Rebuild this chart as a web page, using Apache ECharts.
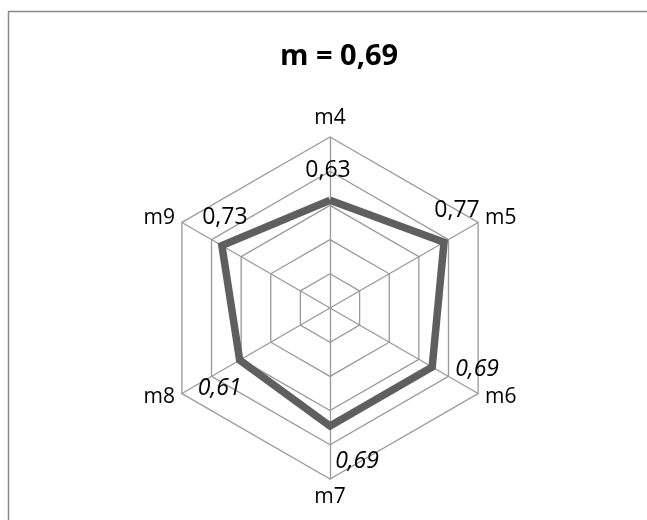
<!DOCTYPE html>
<html>
<head>
<meta charset="utf-8">
<script src="https://cdn.jsdelivr.net/npm/echarts@6/dist/echarts.min.js"></script>
<style>
  html, body { margin: 0; padding: 0; background: #fff; }
  #chart { width: 647px; height: 520px; }
</style>
</head>
<body>
<div id="chart"></div>
<script>
// Metrics, listed clockwise starting at the top spoke
const categories = ['m4', 'm5', 'm6', 'm7', 'm8', 'm9'];
const values = [0.63, 0.77, 0.69, 0.69, 0.61, 0.73];
const titleText = 'm = 0,69';
const axisMax = 1;
const ringCount = 5;

// Label placement per metric (offset from the vertex, italic flag)
const labelStyle = {
  m4: { offset: [-2, -30], italic: false },
  m5: { offset: [13, -32], italic: false },
  m6: { offset: [45, 2], italic: true },
  m7: { offset: [27, 35], italic: true },
  m8: { offset: [-20, 28], italic: true },
  m9: { offset: [3, -28], italic: false }
};

// ECharts lays radar spokes counter-clockwise from the top,
// so keep the first spoke and reverse the rest.
const order = [0].concat(categories.slice(1).map((_, i) => categories.length - 1 - i));
const axisNames = order.map(i => categories[i]);
const axisValues = order.map(i => values[i]);

const fmt = v => (typeof v === 'number' && !isNaN(v)) ? v.toFixed(2).replace('.', ',') : '';

const FONT = '"Open Sans", "Liberation Sans", sans-serif';

// One invisible series item per vertex carries that vertex's label
const labelItems = axisNames.map((name, k) => {
  const st = labelStyle[name];
  return {
    value: axisValues.map((v, j) => (j === k ? v : '-')),
    symbol: 'circle',
    symbolSize: 1,
    itemStyle: { color: 'transparent' },
    lineStyle: { width: 0, opacity: 0 },
    label: {
      show: true,
      position: 'inside',
      offset: st.offset,
      color: '#000',
      fontFamily: FONT,
      fontSize: 23,
      fontStyle: st.italic ? 'italic' : 'normal',
      formatter: p => fmt(p.value)
    }
  };
});

const chart = echarts.init(document.getElementById('chart'), null, { renderer: 'canvas' });
chart.setOption({
  animation: false,
  backgroundColor: '#fff',
  title: {
    text: titleText,
    left: 334,
    top: 37,
    textAlign: 'center',
    textStyle: { fontFamily: FONT, fontSize: 29, fontWeight: 'bold', color: '#000' }
  },
  graphic: [{
    type: 'rect',
    silent: true,
    shape: { x: 8.5, y: 11.5, width: 700, height: 600 },
    style: { fill: 'none', stroke: '#8a8a8a', lineWidth: 1.5 }
  }],
  radar: {
    center: [330, 308],
    radius: 171,
    startAngle: 90,
    shape: 'polygon',
    splitNumber: ringCount,
    indicator: axisNames.map(n => ({ name: n, min: 0, max: axisMax })),
    axisName: { color: '#000', fontFamily: FONT, fontSize: 21 },
    nameGap: 8,
    axisLine: { lineStyle: { color: '#999999', width: 1.3 } },
    splitLine: { lineStyle: { color: '#999999', width: 1.3 } },
    splitArea: { show: false },
    axisTick: { show: false },
    axisLabel: { show: false }
  },
  series: [{
    type: 'radar',
    silent: true,
    emphasis: { disabled: true },
    data: [{
      value: axisValues,
      symbol: 'none',
      lineStyle: { color: '#5f5f5f', width: 7.5, join: 'miter' }
    }].concat(labelItems)
  }]
});
</script>
</body>
</html>
